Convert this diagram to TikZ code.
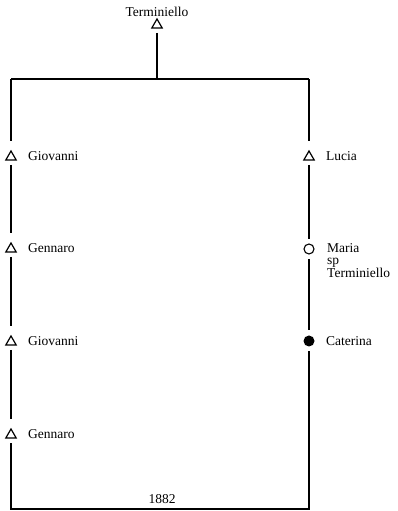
\documentclass[tikz,border=0pt]{standalone}
\usepackage{fontspec}
\setmainfont{Liberation Serif}
\usetikzlibrary{shapes.geometric}
\begin{document}
\begin{tikzpicture}[x=1pt,y=1pt,
  line/.style={line width=1.5pt},
  male/.style={draw,regular polygon,regular polygon sides=3,minimum size=12pt,inner sep=0pt,line width=1.2pt,outer sep=5pt},
  female/.style={draw,circle,minimum size=10pt,inner sep=0pt,line width=1.1pt,outer sep=5pt},
  dead/.style={fill,circle,minimum size=11pt,inner sep=0pt,outer sep=5pt},
  lbl/.style={font=\fontsize{13.5}{12.5}\selectfont,inner sep=0pt,anchor=west,align=left}]
\useasboundingbox (0,0) rectangle (397,511);
% top
\node[lbl,anchor=center] (ttop) at (157,499) {Terminiello};
\node[male] (t0) at (157,486) {};
\coordinate (jm) at (157,432);
\coordinate (jl) at (11,432);
\coordinate (jr) at (309,432);
% left branch
\node[male] (L1) at (11,354) {};
\node[male] (L2) at (11,262) {};
\node[male] (L3) at (11,169) {};
\node[male] (L4) at (11,76) {};
\node[lbl] (nL1) at (28,355) {Giovanni};
\node[lbl] (nL2) at (28,263) {Gennaro};
\node[lbl] (nL3) at (28,170) {Giovanni};
\node[lbl] (nL4) at (28,77) {Gennaro};
% right branch
\node[male] (R1) at (309,354) {};
\node[female] (R2) at (309,262) {};
\node[dead] (R3) at (309,170) {};
\node[lbl] (nR1) at (326,355) {Lucia};
\node[lbl,anchor=north west] (nR2) at (327,268) {Maria\\sp\\Terminiello};
\node[lbl] (nR3) at (326,170) {Caterina};
% bottom
\coordinate (bl) at (11,2);
\coordinate (br) at (309,2);
\node[lbl,anchor=center] (yr) at (162,12) {1882};
% connectors
\draw[line] (t0) -- (jm);
\draw[line] (jl) -- (jr);
\draw[line] (jl) -- (L1);
\draw[line] (L1) -- (L2);
\draw[line] (L2) -- (L3);
\draw[line] (L3) -- (L4);
\draw[line] (L4) -- (bl) -- (br) -- (R3);
\draw[line] (jr) -- (R1);
\draw[line] (R1) -- (R2);
\draw[line] (R2) -- (R3);
\end{tikzpicture}
\end{document}
